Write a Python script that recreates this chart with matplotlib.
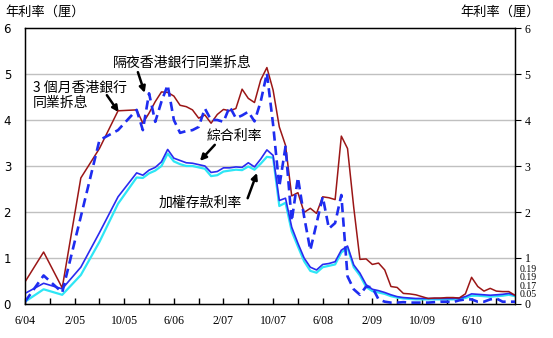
import matplotlib
matplotlib.use('Agg')
import matplotlib.pyplot as plt

plt.rcParams['font.family'] = ['Noto Sans CJK TC', 'DejaVu Sans']

# months counted from Jun 2004 (quarterly until Dec 2005, monthly after)
months = [0, 3, 6, 9, 12, 15, 18] + list(range(19, 80))

hibor_3m = [0.48, 1.13, 0.35, 2.74, 3.38, 4.2, 4.22,
            3.93, 4.15, 4.4, 4.61, 4.6, 4.52, 4.32, 4.29, 4.22, 4.04,
            4.11, 3.93, 4.12, 4.23, 4.2, 4.25, 4.67, 4.47, 4.38, 4.87,
            5.14, 4.65, 3.85, 3.45, 2.35, 2.42, 1.99, 2.08, 1.97, 2.33,
            2.31, 2.27, 3.65, 3.38, 2.1, 0.97, 0.98, 0.86, 0.89, 0.74,
            0.38, 0.36, 0.23, 0.22, 0.2, 0.16, 0.12, 0.13, 0.13, 0.14,
            0.14, 0.13, 0.22, 0.58, 0.38, 0.28, 0.34, 0.28, 0.27, 0.27,
            0.19]
hibor_on = [0.05, 0.62, 0.25, 1.9, 3.56, 3.78, 4.22,
            3.78, 4.58, 3.96, 4.4, 4.76, 4.0, 3.72, 3.76, 3.78, 3.85,
            4.25, 4.0, 4.0, 3.96, 4.29, 4.04, 4.1, 4.18, 3.97, 4.4,
            5.02, 3.9, 2.55, 3.42, 1.8, 2.75, 1.9, 1.17, 1.75, 2.33,
            1.64, 1.76, 2.37, 0.6, 0.32, 0.2, 0.38, 0.36, 0.1, 0.05,
            0.03, 0.03, 0.04, 0.03, 0.03, 0.03, 0.03, 0.04, 0.05, 0.05,
            0.04, 0.08, 0.1, 0.1, 0.05, 0.05, 0.1, 0.12, 0.05, 0.05,
            0.05]
composite = [0.23, 0.45, 0.33, 0.8, 1.55, 2.33, 2.85,
             2.8, 2.91, 2.97, 3.09, 3.36, 3.17, 3.12, 3.07, 3.06, 3.03,
             3.0, 2.86, 2.88, 2.96, 2.96, 2.98, 2.97, 3.07, 2.98, 3.15,
             3.35, 3.23, 2.25, 2.3, 1.67, 1.32, 1.0, 0.8, 0.74, 0.86,
             0.88, 0.92, 1.17, 1.26, 0.85, 0.67, 0.42, 0.32, 0.29, 0.25,
             0.2, 0.16, 0.14, 0.13, 0.12, 0.12, 0.12, 0.12, 0.12, 0.12,
             0.12, 0.13, 0.16, 0.22, 0.21, 0.2, 0.19, 0.2, 0.21, 0.23,
             0.19]
deposit = [0.05, 0.32, 0.2, 0.63, 1.35, 2.18, 2.75,
           2.74, 2.84, 2.9, 3.0, 3.27, 3.1, 3.04, 3.0, 3.0, 2.97,
           2.94, 2.78, 2.8, 2.88, 2.9, 2.92, 2.91, 2.99, 2.92, 3.05,
           3.2, 3.18, 2.13, 2.2, 1.58, 1.25, 0.93, 0.72, 0.68, 0.8,
           0.83, 0.86, 1.12, 1.22, 0.8, 0.62, 0.37, 0.28, 0.25, 0.22,
           0.17, 0.14, 0.12, 0.11, 0.1, 0.1, 0.1, 0.1, 0.1, 0.1,
           0.1, 0.11, 0.13, 0.18, 0.18, 0.17, 0.16, 0.17, 0.18, 0.2,
           0.17]

tick_months = list(range(0, 80, 4))
label_months = [0, 8, 16, 24, 32, 40, 48, 56, 64, 72]
x_labels = ['6/04', '2/05', '10/05', '6/06', '2/07', '10/07', '6/08', '2/09', '10/09', '6/10']
end_labels = ['0.19', '0.19', '0.17', '0.05']

fig = plt.figure(figsize=(5.53, 3.38), dpi=100)
ax = fig.add_axes([25 / 553, 34 / 338, 490 / 553, 276 / 338])

for v in range(1, 6):
    ax.axhline(v, color='#c0c0c0', lw=1, zorder=0)

ax.plot(months, deposit, color='#2ee6f5', lw=1.6, zorder=2)
ax.plot(months, composite, color='#2a2af0', lw=1.2, zorder=3)
ax.plot(months, hibor_3m, color='#9b1616', lw=1.1, zorder=4)
ax.plot(months, hibor_on, color='#1e2cf0', lw=1.9, ls=(0, (3.5, 2)), zorder=5)

ax.set_xlim(0, 79)
ax.set_ylim(0, 6)
ax.set_xticks(tick_months, minor=True)
ax.set_xticks(label_months)
ax.set_xticklabels(x_labels, family='Liberation Serif', fontsize=8.5)
ax.tick_params(axis='x', which='both', direction='in', length=4, pad=8, width=1)
ax.set_yticks(range(0, 7))
ax.tick_params(axis='y', length=0, pad=10, labelsize=8.5)
for lab in ax.get_yticklabels():
    lab.set_family('DejaVu Sans')
for sp in ax.spines.values():
    sp.set_linewidth(1)

axr = ax.twinx()
axr.set_ylim(0, 6)
axr.set_yticks(range(0, 7))
axr.tick_params(axis='y', direction='out', length=4, pad=3, labelsize=8.5)
for lab in axr.get_yticklabels():
    lab.set_family('Liberation Serif')

for lab, v in zip(end_labels, [0.76, 0.57, 0.38, 0.2]):
    ax.text(1.01, v, lab, transform=ax.get_yaxis_transform(), fontsize=7,
            family='Liberation Serif', va='center', ha='left')

fig.text(5 / 553, 1 - 12 / 338, '年利率（厘）', fontsize=9.5, va='center', ha='left')
fig.text(460 / 553, 1 - 12 / 338, '年利率（厘）', fontsize=9.5, va='center', ha='left')

arrow = dict(arrowstyle='-|>', color='black', lw=1.8, mutation_scale=9, shrinkA=0, shrinkB=0)
ax.text(25.4, 5.24, '隔夜香港銀行同業拆息', fontsize=10, ha='center', va='center')
ax.annotate('', xy=(19.3, 4.59), xytext=(18.2, 5.04), arrowprops=arrow)
ax.text(1.3, 4.7, '3 個月香港銀行', fontsize=10, ha='left', va='center')
ax.text(1.3, 4.37, '同業拆息', fontsize=10, ha='left', va='center')
ax.annotate('', xy=(15.1, 4.17), xytext=(13.2, 4.54), arrowprops=arrow)
ax.text(33.7, 3.65, '綜合利率', fontsize=10, ha='center', va='center')
ax.annotate('', xy=(28.2, 3.11), xytext=(30.6, 3.46), arrowprops=arrow)
ax.text(28.2, 2.2, '加權存款利率', fontsize=10, ha='center', va='center')
ax.annotate('', xy=(37.4, 2.85), xytext=(35.9, 2.3), arrowprops=arrow)

fig.savefig('out.png', dpi=100)
